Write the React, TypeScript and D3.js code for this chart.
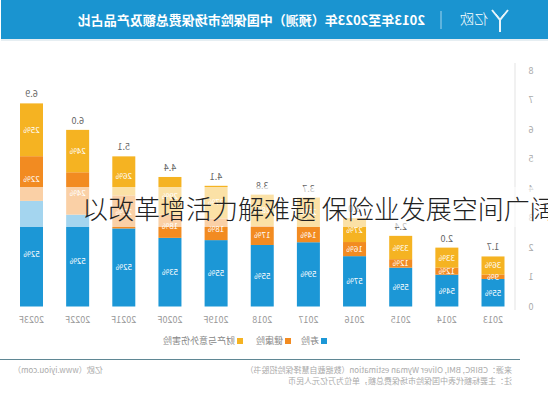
import React from 'react';
import * as d3 from 'd3';

const years = ['2013', '2014', '2015', '2016', '2017', '2018', '2019F', '2020F', '2021F', '2022F', '2023F'];
const totals = [1.7, 2.0, 2.4, 3.0, 3.7, 3.8, 4.1, 4.4, 5.1, 6.0, 6.9];
const lifePct = [55, 54, 55, 57, 59, 55, 55, 53, 52, 52, 52];
const healthPct = [9, 12, 12, 16, 14, 17, 18, 18, 22, 24, 22];
const propertyPct = [36, 33, 33, 27, 27, 28, 27, 29, 26, 24, 25];
const yTicks = [0, 1, 2, 3, 4, 5, 6, 7, 8];
const seriesNames = ['寿险', '健康险', '财产与意外伤害险'];
const seriesColors = ['#1c97d6', '#f28b21', '#f5b322'];

const title = '2013年至2023年（预测）中国保险市场保费总额及产品占比';
const source1 = '来源：CBIRC, BMI, Oliver Wyman estimation（数据截自慧择保险招股书）';
const source2 = '注：主要标额代表中国保险市场保费总额，单位为万亿元人民币';
const brand = '亿欧（www.iyiou.com）';
const headline = '以改革增活力解难题 保险业发展空间广阔';

const W = 548;
const H = 400;
const FONT = '"Noto Sans CJK SC", "Noto Sans", sans-serif';

export default function App() {
  const x = d3.scalePoint<string>().domain(years).range([55, 516.5]);
  const y = d3.scaleLinear().domain([0, 8]).range([306.5, 71]);
  const bw = 23;

  const stacks = years.map((yr, i) => {
    const t = totals[i];
    const life = (t * lifePct[i]) / 100;
    const health = (t * healthPct[i]) / 100;
    const prop = t - life - health;
    const vals = [life, health, prop];
    const pcts = [lifePct[i], healthPct[i], propertyPct[i]];
    let acc = 0;
    return vals.map((v, k) => {
      const y0 = acc;
      acc += v;
      return { yr, k, y0, y1: acc, pct: pcts[k] };
    });
  });

  const legendX = [224, 260, 308];

  return (
    <svg
      width={W}
      height={H}
      style={{ position: 'absolute', left: 0, top: 0, background: '#fff' }}
      fontFamily={FONT}
    >
      <rect x={0} y={0} width={W} height={H} fill="#fff" />
      <g transform={`translate(${W},0) scale(-1,1)`}>
        {/* header */}
        <rect x={0} y={0} width={547} height={39} fill="#1a94d0" />
        <rect x={0} y={39} width={547} height={2} fill="#e6eef2" />
        <g stroke="#fff" strokeWidth={2} fill="none" opacity={0.9}>
          <path d="M40,10 L48,20 L56,10" />
          <path d="M48,20 L48,32" />
          <path d="M44,14 L48,19 L52,14" strokeWidth={1} />
        </g>
        <text x={60} y={24} fill="#fff" fontSize={14} fontWeight={300}>亿欧</text>
        <line x1={107} x2={107} y1={11} y2={29} stroke="#fff" strokeOpacity={0.6} />
        <text x={123} y={25} fill="#fff" fontSize={13} fontWeight={700}>{title}</text>

        {/* y axis */}
        <line x1={33} x2={33} y1={63} y2={310} stroke="#e3e3e3" />
        {yTicks.map((t) => (
          <text key={t} x={17} y={y(t) + 3} fontSize={9} fill="#aaa" textAnchor="middle">
            {t}
          </text>
        ))}

        {/* bars */}
        {stacks.map((segs, i) => (
          <g key={years[i]}>
            {segs.map((s) => (
              <rect
                key={s.k}
                x={(x(s.yr) as number) - bw / 2}
                y={y(s.y1)}
                width={bw}
                height={y(s.y0) - y(s.y1)}
                fill={seriesColors[s.k]}
              />
            ))}
            {segs.map((s) => (
              <text
                key={'l' + s.k}
                x={x(s.yr) as number}
                y={(y(s.y0) + y(s.y1)) / 2 + 3}
                fontSize={8}
                fill="#fff"
                textAnchor="middle"
              >
                {s.pct}%
              </text>
            ))}
            <text
              x={x(years[i]) as number}
              y={y(totals[i]) - 6}
              fontSize={9}
              fill="#666"
              textAnchor="middle"
            >
              {totals[i].toFixed(1)}
            </text>
            <text
              x={x(years[i]) as number}
              y={323}
              fontSize={9}
              fill="#999"
              textAnchor="middle"
            >
              {years[i]}
            </text>
          </g>
        ))}

        {/* legend */}
        {seriesNames.map((n, k) => (
          <g key={n}>
            <rect x={legendX[k] - 3} y={338} width={6} height={6} fill={seriesColors[k]} />
            <text x={legendX[k] + 5} y={344} fontSize={9} fill="#888">
              {n}
            </text>
          </g>
        ))}

        {/* footer */}
        <line x1={28} x2={548} y1={359.5} y2={359.5} stroke="#5f8794" strokeWidth={1} />
        <text x={36} y={373} fontSize={8} fill="#aaa">{source1}</text>
        <text x={36} y={384} fontSize={8} fill="#aaa">{source2}</text>
        <text x={535} y={373} fontSize={8} fill="#aaa" textAnchor="end">{brand}</text>
      </g>

      {/* overlay headline */}
      <rect x={0} y={187} width={W} height={40} fill="#fff" opacity={0.6} />
      <text x={82} y={219} fontSize={26} fill="#222" fontWeight={300}>
        {headline}
      </text>
    </svg>
  );
}
